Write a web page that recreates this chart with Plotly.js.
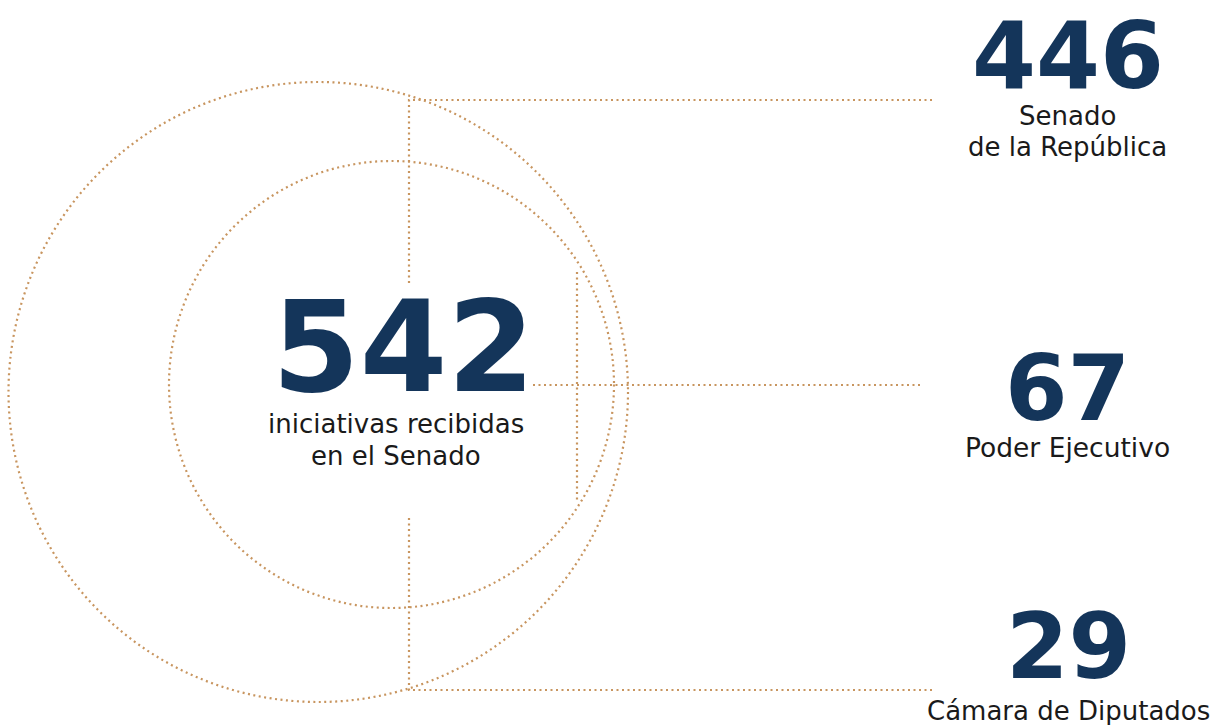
<!DOCTYPE html>
<html>
<head>
<meta charset="utf-8">
<script src="https://cdn.plot.ly/plotly-3.0.1.min.js"></script>
<style>html,body{margin:0;padding:0;background:#fff;}#chart{width:1215px;height:725px;}</style>
</head>
<body>
<div id="chart"></div>
<script>
// ---- data ----
const totalLabel = "iniciativas recibidas<br>en el Senado";
const totalValue = 542;
const categories = ["Senado<br>de la República", "Poder Ejecutivo", "Cámara de Diputados"];
const values = [446, 67, 29];

// ---- layout helpers (positions / styles) ----
const NAVY = "#14355a";
const TAN = "#c8955f";
const TEXT = "#1a1a1a";
const numFamily = "'DejaVu Sans', Verdana, sans-serif";
const labFamily = "'DejaVu Sans', sans-serif";
const dotLine = {color: TAN, width: 2.2, dash: "2px,3.5px"};

// category anchor positions / sizes
const catX = [1067.5, 1067, 1068.5];
const numY = [56.5, 388, 646.5];
const numSize = [92, 90, 90];
const labY = [115.5, 447, 711];   // centre of first label line
const labSize = [26, 26.5, 26];
const lineGap = 31.5;

const shapes = [
  {type: "circle", xref: "x", yref: "y", x0: 8.5, x1: 628, y0: 82, y1: 702, line: dotLine},
  {type: "circle", xref: "x", yref: "y", x0: 169, x1: 614, y0: 161, y1: 608, line: dotLine},
  {type: "path", xref: "x", yref: "y", path: "M409,283 L409,100 L932,100", line: dotLine},
  {type: "line", xref: "x", yref: "y", x0: 577, x1: 577, y0: 272, y1: 502, line: dotLine},
  {type: "line", xref: "x", yref: "y", x0: 533, x1: 920, y0: 385, y1: 385, line: dotLine},
  {type: "path", xref: "x", yref: "y", path: "M409,518 L409,690 L932,690", line: dotLine}
];

function addLabel(arr, text, x, y0, size, gap) {
  text.split("<br>").forEach(function (line, k) {
    arr.push({x: x, y: y0 + k * gap, text: line,
      font: {family: labFamily, size: size, color: TEXT},
      showarrow: false, xanchor: "center", yanchor: "middle"});
  });
}

const annotations = [
  {x: 403, y: 347.5, text: String(totalValue),
   font: {family: numFamily, size: 126, color: NAVY, weight: 700},
   showarrow: false, xanchor: "center", yanchor: "middle"}
];
addLabel(annotations, totalLabel, 395.5, 424, 26, 32);
for (let i = 0; i < categories.length; i++) {
  annotations.push({x: catX[i], y: numY[i], text: String(values[i]),
    font: {family: numFamily, size: numSize[i], color: NAVY, weight: 700},
    showarrow: false, xanchor: "center", yanchor: "middle"});
  addLabel(annotations, categories[i], catX[i], labY[i], labSize[i], lineGap);
}

const layout = {
  width: 1215, height: 725,
  margin: {l: 0, r: 0, t: 0, b: 0},
  paper_bgcolor: "#fff", plot_bgcolor: "#fff",
  xaxis: {range: [0, 1215], visible: false, fixedrange: true},
  yaxis: {range: [725, 0], visible: false, fixedrange: true},
  showlegend: false,
  shapes: shapes,
  annotations: annotations
};

Plotly.newPlot("chart", [{x: [], y: [], type: "scatter"}], layout, {staticPlot: true, displayModeBar: false});
</script>
</body>
</html>
